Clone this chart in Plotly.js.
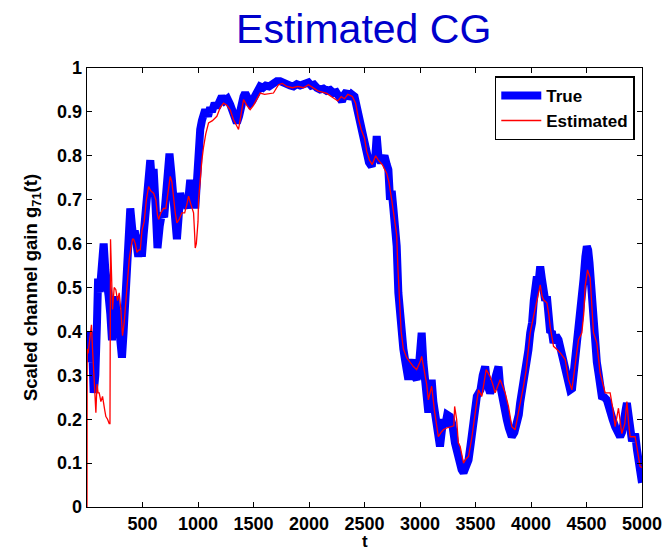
<!DOCTYPE html>
<html>
<head>
<meta charset="utf-8">
<script src="https://cdn.plot.ly/plotly-3.0.1.min.js"></script>
<style>html,body{margin:0;padding:0;background:#fff;}#chart{width:671px;height:549px;}</style>
</head>
<body>
<div id="chart"></div>
<script>
// True channel gain (t, value)
var trueT = [0,15,30,45,60,75,90,100,115,130,150,165,180,195,210,225,240,255,270,285,300,315,330,345,360,375,390,405,418,430,445,462,480,494,510,525,540,555,570,585,600,615,635,655,675,695,715,730,743,760,780,795,810,825,840,860,885,905,930,950,965,975,990,1005,1020,1035,1050,1065,1090,1110,1125,1150,1170,1195,1215,1240,1265,1290,1315,1335,1350,1370,1390,1410,1425,1445,1470,1490,1515,1535,1560,1585,1610,1640,1670,1710,1740,1770,1800,1830,1860,1890,1920,1950,1975,1995,2020,2045,2070,2100,2130,2160,2190,2220,2245,2270,2297,2320,2340,2360,2385,2410,2430,2445,2465,2490,2505,2520,2540,2565,2580,2595,2610,2625,2640,2660,2680,2700,2715,2730,2745,2760,2775,2790,2805,2820,2835,2850,2865,2880,2895,2910,2925,2945,2970,2990,3005,3015,3030,3045,3060,3075,3090,3105,3120,3135,3150,3165,3180,3195,3210,3225,3245,3270,3290,3315,3335,3357,3375,3392,3415,3437,3455,3468,3490,3512,3530,3545,3565,3587,3605,3632,3650,3662,3685,3707,3720,3737,3760,3782,3800,3827,3850,3872,3890,3902,3925,3947,3965,3977,3993,4010,4025,4038,4053,4068,4083,4098,4113,4128,4143,4158,4173,4188,4203,4225,4248,4265,4278,4295,4308,4330,4353,4370,4383,4400,4413,4428,4443,4458,4473,4490,4503,4515,4527,4540,4548,4563,4578,4593,4608,4623,4638,4660,4683,4700,4713,4735,4758,4780,4803,4820,4840,4852,4864,4878,4893,4910,4925,4938,4955,4968,4985,5000];
var trueV = [0.36,0.40,0.33,0.38,0.26,0.30,0.42,0.52,0.49,0.56,0.60,0.54,0.52,0.48,0.44,0.38,0.44,0.48,0.42,0.45,0.38,0.34,0.40,0.46,0.52,0.60,0.68,0.64,0.61,0.63,0.58,0.57,0.62,0.57,0.62,0.68,0.73,0.76,0.79,0.74,0.77,0.70,0.59,0.64,0.67,0.66,0.72,0.78,0.805,0.76,0.70,0.66,0.61,0.66,0.715,0.69,0.70,0.68,0.745,0.70,0.72,0.68,0.74,0.84,0.86,0.88,0.90,0.905,0.89,0.91,0.90,0.92,0.91,0.93,0.935,0.925,0.93,0.917,0.90,0.885,0.875,0.89,0.92,0.935,0.943,0.93,0.92,0.925,0.935,0.95,0.958,0.955,0.96,0.958,0.965,0.97,0.97,0.965,0.962,0.96,0.958,0.963,0.96,0.962,0.966,0.967,0.96,0.962,0.955,0.951,0.953,0.948,0.95,0.943,0.945,0.935,0.924,0.94,0.947,0.93,0.94,0.935,0.91,0.89,0.87,0.845,0.82,0.80,0.785,0.776,0.80,0.79,0.845,0.80,0.79,0.79,0.80,0.78,0.768,0.70,0.72,0.68,0.64,0.594,0.488,0.427,0.374,0.36,0.336,0.32,0.29,0.32,0.336,0.30,0.29,0.32,0.35,0.397,0.33,0.297,0.26,0.215,0.25,0.29,0.24,0.22,0.199,0.16,0.138,0.17,0.20,0.183,0.21,0.206,0.19,0.146,0.12,0.09,0.085,0.078,0.095,0.107,0.14,0.175,0.22,0.252,0.26,0.267,0.30,0.32,0.28,0.26,0.27,0.275,0.30,0.32,0.28,0.252,0.22,0.199,0.18,0.16,0.17,0.19,0.21,0.237,0.27,0.305,0.33,0.358,0.397,0.42,0.47,0.50,0.525,0.51,0.548,0.52,0.472,0.47,0.48,0.44,0.397,0.40,0.374,0.39,0.381,0.36,0.343,0.34,0.328,0.30,0.267,0.27,0.297,0.36,0.397,0.41,0.427,0.47,0.518,0.57,0.594,0.585,0.556,0.50,0.465,0.41,0.366,0.33,0.305,0.27,0.252,0.25,0.244,0.23,0.214,0.20,0.183,0.175,0.16,0.17,0.19,0.22,0.237,0.20,0.152,0.15,0.16,0.167,0.13,0.10,0.075,0.055];

// Estimated channel gain (t, value)
var estT = [0,2,10,25,40,50,60,70,80,90,100,110,125,140,150,160,170,185,200,207,212,222,230,245,260,275,290,305,320,335,350,365,380,395,410,420,435,450,465,480,495,515,535,555,575,600,620,635,645,665,690,710,730,750,765,780,795,810,830,855,880,900,915,935,960,970,975,985,1000,1005,1020,1035,1050,1070,1095,1130,1170,1200,1230,1260,1290,1320,1345,1365,1385,1410,1440,1470,1500,1530,1560,1600,1640,1680,1725,1760,1800,1850,1900,1950,1995,2040,2080,2120,2160,2200,2230,2260,2290,2320,2350,2390,2420,2445,2470,2500,2520,2545,2570,2600,2625,2660,2700,2720,2745,2770,2790,2800,2815,2830,2850,2880,2910,2940,2970,3000,3015,3040,3060,3075,3105,3130,3165,3190,3210,3240,3285,3305,3312,3330,3345,3362,3392,3415,3437,3468,3497,3527,3557,3580,3596,3615,3632,3655,3677,3700,3722,3745,3767,3797,3827,3857,3887,3910,3932,3955,3977,3993,4020,4053,4083,4100,4113,4143,4160,4173,4203,4230,4263,4308,4338,4368,4398,4428,4458,4475,4488,4509,4533,4548,4563,4593,4623,4668,4713,4740,4758,4788,4818,4845,4864,4880,4893,4938,4960,4983,5000];
var estV = [0,0.36,0.35,0.38,0.415,0.36,0.30,0.27,0.215,0.28,0.26,0.26,0.24,0.252,0.24,0.22,0.206,0.20,0.19,0.19,0.61,0.54,0.45,0.50,0.495,0.47,0.488,0.45,0.39,0.42,0.472,0.52,0.563,0.59,0.61,0.61,0.60,0.58,0.585,0.586,0.63,0.65,0.70,0.73,0.72,0.715,0.70,0.665,0.655,0.67,0.68,0.68,0.72,0.753,0.74,0.70,0.67,0.647,0.655,0.67,0.67,0.69,0.708,0.69,0.67,0.62,0.59,0.60,0.65,0.70,0.753,0.79,0.82,0.85,0.875,0.88,0.89,0.91,0.92,0.915,0.905,0.882,0.87,0.86,0.89,0.928,0.915,0.905,0.915,0.93,0.943,0.94,0.942,0.943,0.962,0.965,0.958,0.955,0.958,0.955,0.962,0.955,0.948,0.945,0.942,0.935,0.93,0.925,0.935,0.93,0.94,0.935,0.92,0.885,0.86,0.84,0.81,0.79,0.78,0.80,0.79,0.78,0.76,0.74,0.70,0.66,0.62,0.55,0.46,0.40,0.36,0.34,0.33,0.32,0.313,0.33,0.343,0.31,0.28,0.244,0.275,0.22,0.16,0.17,0.176,0.18,0.183,0.185,0.229,0.20,0.146,0.138,0.10,0.11,0.115,0.16,0.214,0.267,0.252,0.29,0.313,0.305,0.297,0.28,0.26,0.275,0.29,0.275,0.26,0.229,0.183,0.176,0.214,0.24,0.275,0.31,0.358,0.397,0.43,0.472,0.506,0.48,0.472,0.465,0.44,0.41,0.366,0.36,0.351,0.336,0.29,0.267,0.32,0.381,0.397,0.44,0.503,0.54,0.522,0.47,0.397,0.374,0.305,0.26,0.26,0.22,0.183,0.225,0.167,0.19,0.24,0.19,0.16,0.16,0.13,0.092,0.09];

var xTicks = [500,1000,1500,2000,2500,3000,3500,4000,4500,5000];
var yTicks = [0,0.1,0.2,0.3,0.4,0.5,0.6,0.7,0.8,0.9,1];
var yTickText = ["0","0.1","0.2","0.3","0.4","0.5","0.6","0.7","0.8","0.9","1"];

var FONT = "Liberation Sans, Arial, sans-serif";

var traces = [
  {x: trueT, y: trueV, type: "scatter", mode: "lines", name: "True",
   line: {color: "#0000ff", width: 8}},
  {x: estT, y: estV, type: "scatter", mode: "lines", name: "Estimated",
   line: {color: "#ff0000", width: 1.3}}
];

var layout = {
  width: 671, height: 549,
  margin: {l: 87, r: 29, t: 68, b: 42, autoexpand: false},
  paper_bgcolor: "#fff", plot_bgcolor: "#fff",
  showlegend: true,
  title: {text: "Estimated CG", font: {family: FONT, size: 41, color: "#0000cc"},
          x: 0.542, xanchor: "center", y: 0.948, yanchor: "middle"},
  xaxis: {range: [0, 5000], tickvals: xTicks, ticktext: xTicks.map(String),
          ticks: "inside", ticklen: 5, tickwidth: 1, tickcolor: "#000",
          showline: true, linecolor: "#000", linewidth: 1.3, mirror: "ticks",
          showgrid: false, zeroline: false,
          tickfont: {family: FONT, size: 18, color: "#000", weight: "bold"},
          automargin: false},
  yaxis: {range: [0, 1], tickvals: yTicks, ticktext: yTickText,
          ticks: "inside", ticklen: 5, tickwidth: 1, tickcolor: "#000",
          showline: true, linecolor: "#000", linewidth: 1.3, mirror: "ticks",
          showgrid: false, zeroline: false,
          tickfont: {family: FONT, size: 18, color: "#000", weight: "bold"},
          title: {text: "<b>Scaled channel gain g<sub>71</sub>(t)</b>", font: {family: FONT, size: 18.5, color: "#000"}, standoff: 14},
          automargin: false},
  annotations: [
    {text: "<b>t</b>", xref: "paper", yref: "paper", x: 0.5, y: -0.053,
     xanchor: "center", yanchor: "top", showarrow: false,
     font: {family: FONT, size: 17, color: "#000"}}
  ],
  legend: {x: 0.987, xanchor: "right", y: 0.981, yanchor: "top",
           bgcolor: "#fff", bordercolor: "#000", borderwidth: 1.5,
           font: {family: FONT, size: 17, color: "#000", weight: "bold"},
           tracegroupgap: 0, itemwidth: 40}
};

Plotly.newPlot("chart", traces, layout, {displayModeBar: false, staticPlot: true});
</script>
</body>
</html>
